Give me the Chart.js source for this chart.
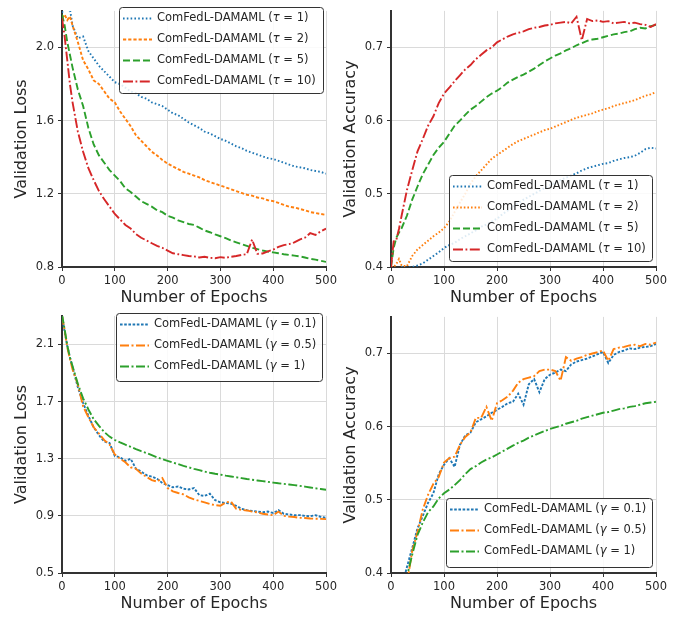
<!DOCTYPE html>
<html>
<head>
<meta charset="utf-8">
<script src="https://cdn.jsdelivr.net/npm/chart.js@4.4.0/dist/chart.umd.min.js"></script>
<style>
  body { margin: 0; background: #fff; }
  #wrap { position: relative; width: 689px; height: 618px; overflow: hidden; background: #fff; }
  #wrap canvas { position: absolute; }
</style>
</head>
<body>
<div id="wrap"></div>
<script>
// epochs sampled from the curves
const epochs = [0,5,10,15,20, 30,40,50,60,70,80,90,100, 110,120,130,140,150,160,170,180,190,200,
  210,220,230,240,250,260,270,280,290,300, 310,320,330,340,350,360,370,380,390,400,
  410,420,430,440,450,460,470,480,490,500];

const xTicks = [0, 100, 200, 300, 400, 500];
const lossTicksTop = [0.8, 1.2, 1.6, 2.0];
const lossTicksBottom = [0.5, 0.9, 1.3, 1.7, 2.1];
const accTicks = [0.4, 0.5, 0.6, 0.7];

const tauLabels = ['ComFedL-DAMAML (τ = 1)', 'ComFedL-DAMAML (τ = 2)', 'ComFedL-DAMAML (τ = 5)', 'ComFedL-DAMAML (τ = 10)'];
const gammaLabels = ['ComFedL-DAMAML (γ = 0.1)', 'ComFedL-DAMAML (γ = 0.5)', 'ComFedL-DAMAML (γ = 1)'];

// top left: validation loss vs tau
const lossTau1 = [2.19,2.22,2.20,2.21,2.12, 2.05,2.06,1.98,1.94,1.90,1.87,1.84,1.81,
  1.80,1.78,1.76,1.75,1.73,1.72,1.70,1.69,1.68,1.66, 1.64,1.63,1.61,1.59,1.575,1.56,1.54,1.53,1.515,1.50,
  1.49,1.475,1.46,1.45,1.435,1.425,1.415,1.405,1.395,1.39, 1.38,1.37,1.36,1.35,1.345,1.34,1.33,1.325,1.32,1.31];
const lossTau2 = [2.16,2.18,2.15,2.17,2.12, 2.03,1.93,1.88,1.82,1.80,1.76,1.72,1.70,
  1.65,1.61,1.57,1.52,1.49,1.46,1.43,1.41,1.385,1.365, 1.35,1.335,1.32,1.31,1.30,1.29,1.275,1.265,1.255,1.245,
  1.235,1.225,1.215,1.205,1.195,1.19,1.18,1.175,1.165,1.16, 1.15,1.14,1.13,1.125,1.118,1.11,1.10,1.095,1.09,1.085];
const lossTau5 = [2.18,2.12,2.03,1.96,1.89, 1.77,1.68,1.56,1.47,1.41,1.37,1.33,1.30,
  1.27,1.23,1.21,1.185,1.16,1.145,1.13,1.11,1.10,1.08, 1.07,1.055,1.045,1.035,1.03,1.015,1.00,0.99,0.978,0.968,
  0.958,0.945,0.935,0.925,0.915,0.905,0.898,0.89,0.884,0.88, 0.875,0.87,0.866,0.862,0.858,0.852,0.845,0.84,0.834,0.828];
const lossTau10 = [2.16,2.06,1.93,1.80,1.70, 1.54,1.43,1.34,1.275,1.215,1.17,1.13,1.09,
  1.06,1.03,1.01,0.98,0.96,0.945,0.93,0.915,0.905,0.89, 0.875,0.87,0.865,0.86,0.858,0.852,0.856,0.85,0.848,0.854,
  0.85,0.856,0.86,0.866,0.87,0.95,0.872,0.874,0.885,0.895, 0.91,0.92,0.925,0.935,0.95,0.96,0.985,0.975,0.995,1.01];

// top right: validation accuracy vs tau
const accTau1 = [0.40,0.398,0.397,0.398,0.40, 0.399,0.40,0.402,0.405,0.41,0.415,0.42,0.426,
  0.43,0.433,0.438,0.442,0.446,0.45,0.455,0.458,0.462,0.466, 0.472,0.477,0.482,0.487,0.492,0.496,0.50,0.504,0.508,0.512,
  0.515,0.519,0.522,0.525,0.528,0.532,0.535,0.537,0.539,0.541, 0.542,0.545,0.547,0.549,0.55,0.552,0.556,0.561,0.563,0.562];
const accTau2 = [0.40,0.40,0.404,0.411,0.402, 0.401,0.415,0.424,0.43,0.436,0.442,0.447,0.453,
  0.462,0.475,0.488,0.50,0.514,0.524,0.532,0.54,0.548,0.553, 0.558,0.563,0.568,0.572,0.575,0.578,0.581,0.584,0.587,0.589,
  0.592,0.595,0.598,0.601,0.604,0.606,0.608,0.61,0.613,0.615, 0.617,0.62,0.622,0.624,0.626,0.628,0.631,0.634,0.636,0.639];
const accTau5 = [0.40,0.426,0.44,0.447,0.453, 0.47,0.492,0.51,0.527,0.54,0.553,0.563,0.571,
  0.582,0.593,0.60,0.608,0.615,0.62,0.626,0.632,0.637,0.641, 0.646,0.652,0.656,0.66,0.663,0.667,0.671,0.676,0.681,0.685,
  0.689,0.692,0.696,0.699,0.703,0.706,0.709,0.711,0.712,0.714, 0.716,0.718,0.719,0.721,0.722,0.725,0.727,0.726,0.729,0.731];
const accTau10 = [0.40,0.435,0.437,0.452,0.47, 0.505,0.532,0.558,0.575,0.593,0.606,0.624,0.637,
  0.645,0.654,0.662,0.67,0.676,0.684,0.69,0.696,0.70,0.707, 0.711,0.715,0.718,0.72,0.722,0.725,0.727,0.728,0.73,0.731,
  0.733,0.734,0.735,0.733,0.742,0.71,0.739,0.736,0.737,0.735, 0.736,0.733,0.734,0.735,0.733,0.734,0.732,0.731,0.728,0.732];

// bottom left: validation loss vs gamma
const lossGam01 = [2.30,2.19,2.09,2.01,1.94, 1.80,1.69,1.60,1.52,1.465,1.42,1.41,1.32,
  1.31,1.285,1.30,1.23,1.21,1.185,1.175,1.16,1.13,1.115, 1.10,1.105,1.09,1.085,1.095,1.045,1.04,1.055,1.01,0.995,
  0.99,0.985,0.97,0.95,0.94,0.935,0.93,0.925,0.93,0.92, 0.94,0.915,0.91,0.905,0.905,0.90,0.897,0.905,0.893,0.886];
const lossGam05 = [2.30,2.20,2.08,2.00,1.925, 1.82,1.667,1.59,1.52,1.476,1.43,1.40,1.33,
  1.30,1.275,1.24,1.23,1.196,1.173,1.15,1.14,1.165,1.095, 1.072,1.06,1.05,1.03,1.016,1.005,0.995,0.983,0.975,0.971,
  0.994,1.0,0.949,0.942,0.938,0.93,0.925,0.915,0.91,0.904, 0.93,0.9,0.895,0.892,0.886,0.885,0.882,0.88,0.879,0.877];
const lossGam1 = [2.31,2.206,2.093,2.01,1.947, 1.824,1.723,1.645,1.577,1.53,1.487,1.455,1.431,
  1.414,1.398,1.383,1.367,1.353,1.34,1.325,1.31,1.297,1.285, 1.273,1.262,1.25,1.24,1.229,1.22,1.21,1.202,1.195,1.189,
  1.182,1.176,1.17,1.164,1.158,1.153,1.148,1.143,1.138,1.133, 1.128,1.124,1.12,1.115,1.11,1.105,1.099,1.093,1.088,1.083];

// bottom right: validation accuracy vs gamma
const accGam01 = [0.30,0.32,0.34,0.36,0.38, 0.408,0.434,0.461,0.478,0.496,0.509,0.535,0.548,
  0.557,0.545,0.575,0.588,0.592,0.606,0.61,0.614,0.619,0.623, 0.627,0.632,0.634,0.645,0.63,0.658,0.665,0.647,0.665,0.671,
  0.674,0.678,0.676,0.685,0.689,0.691,0.693,0.696,0.699,0.702, 0.687,0.698,0.702,0.704,0.707,0.706,0.708,0.709,0.71,0.713];
const accGam05 = [0.30,0.32,0.34,0.36,0.37, 0.385,0.43,0.456,0.487,0.507,0.522,0.531,0.551,
  0.557,0.559,0.575,0.586,0.592,0.612,0.612,0.627,0.608,0.632, 0.636,0.641,0.649,0.66,0.665,0.667,0.669,0.676,0.678,0.678,
  0.676,0.663,0.695,0.69,0.693,0.695,0.698,0.70,0.702,0.704, 0.69,0.706,0.708,0.709,0.711,0.712,0.71,0.713,0.712,0.715];
const accGam1 = [0.28,0.30,0.32,0.34,0.36, 0.395,0.425,0.452,0.469,0.483,0.491,0.502,0.509,
  0.514,0.52,0.527,0.535,0.542,0.546,0.551,0.555,0.558,0.562, 0.566,0.57,0.574,0.578,0.581,0.585,0.588,0.591,0.594,0.597,
  0.599,0.601,0.604,0.606,0.608,0.611,0.613,0.615,0.617,0.619, 0.62,0.622,0.624,0.625,0.627,0.628,0.63,0.632,0.633,0.634];

const BLUE = '#1f77b4', ORANGE = '#ff7f0e', GREEN = '#2ca02c', RED = '#d62728';
const FONT = 'DejaVu Sans';
const LW = 1.9;

Chart.defaults.font.family = FONT;
Chart.defaults.font.size = 11.5;
Chart.defaults.color = '#262626';

// draws a label, greek letters in italic like mathtext
function drawLabel(ctx, text, x, y) {
  const parts = text.split(/([τγ])/);
  ctx.textBaseline = 'middle';
  ctx.fillStyle = '#262626';
  parts.forEach(p => {
    if (!p) return;
    ctx.font = (/[τγ]/.test(p) ? 'italic ' : '') + '11.5px "' + FONT + '"';
    ctx.fillText(p, x, y);
    x += ctx.measureText(p).width;
  });
}

const insideLegend = {
  id: 'insideLegend',
  afterDatasetsDraw(chart, args, opts) {
    const ctx = chart.ctx;
    const b = opts.box;
    ctx.save();
    ctx.beginPath();
    ctx.roundRect(b.x + 0.5, b.y + 0.5, b.w, b.h, 3);
    ctx.fillStyle = 'rgba(255,255,255,0.85)';
    ctx.fill();
    ctx.strokeStyle = '#333';
    ctx.lineWidth = 1;
    ctx.stroke();
    chart.data.datasets.forEach((ds, i) => {
      const y = b.y + 11.5 + i * 21;
      ctx.beginPath();
      ctx.setLineDash(ds.borderDash || []);
      ctx.strokeStyle = ds.borderColor;
      ctx.lineWidth = ds.borderWidth;
      ctx.moveTo(b.x + 4, y);
      ctx.lineTo(b.x + 33, y);
      ctx.stroke();
      ctx.setLineDash([]);
      drawLabel(ctx, ds.label, b.x + 38, y);
    });
    ctx.restore();
  }
};

function makePanel(p) {
  const canvas = document.createElement('canvas');
  const left = p.areaLeft - 62;
  const w = p.areaRight - left + 12;
  const h = p.areaBottom - p.areaTop + 43;
  canvas.width = w; canvas.height = h;
  canvas.style.left = left + 'px';
  canvas.style.top = p.areaTop + 'px';
  canvas.style.width = w + 'px';
  canvas.style.height = h + 'px';
  document.getElementById('wrap').appendChild(canvas);

  const n = p.series.length;
  const datasets = p.series.map((s, i) => ({
    label: s.label,
    data: epochs.map((e, k) => ({ x: e, y: s.values[k] })),
    borderColor: s.color,
    borderDash: s.dash,
    borderWidth: LW,
    pointRadius: 0,
    fill: false,
    tension: 0,
    order: n - i
  }));

  new Chart(canvas, {
    type: 'line',
    data: { datasets },
    plugins: [insideLegend],
    options: {
      responsive: false,
      animation: false,
      layout: { padding: { left: 0, right: 12, top: 0, bottom: 0 } },
      plugins: {
        legend: { display: false },
        tooltip: { enabled: false },
        insideLegend: { box: p.legend }
      },
      scales: {
        x: {
          type: 'linear', min: 0, max: 500,
          afterBuildTicks: s => { s.ticks = xTicks.map(v => ({ value: v })); },
          afterFit: s => { s.height = 43; },
          ticks: { padding: 3, maxRotation: 0, callback: v => String(v) },
          grid: { color: '#dadada', lineWidth: 1, tickLength: 4, tickColor: '#333' },
          border: { color: '#333', width: 2 },
          title: { display: true, text: 'Number of Epochs', font: { size: 16 }, padding: { top: 0, bottom: 2.4 }, color: '#262626' }
        },
        y: {
          type: 'linear', min: p.yMin, max: p.yMax,
          afterBuildTicks: s => { s.ticks = p.yTicks.map(v => ({ value: v })); },
          afterFit: s => { s.width = 62; },
          ticks: { padding: 4, callback: v => v.toFixed(1) },
          grid: { color: '#dadada', lineWidth: 1, tickLength: 4, tickColor: '#333' },
          border: { color: '#333', width: 2 },
          title: { display: true, text: p.yTitle, font: { size: 16 }, padding: { top: 12.4, bottom: 0 }, color: '#262626' }
        }
      }
    }
  });
}

makePanel({
  areaLeft: 62, areaRight: 328, areaTop: 0, areaBottom: 267,
  yMin: 0.8, yMax: 2.2, yTicks: lossTicksTop, yTitle: 'Validation Loss',
  legend: { x: 119, y: 7, w: 204, h: 86 },
  series: [
    { label: tauLabels[0], values: lossTau1, color: BLUE, dash: [1.6, 2.2] },
    { label: tauLabels[1], values: lossTau2, color: ORANGE, dash: [3.2, 2] },
    { label: tauLabels[2], values: lossTau5, color: GREEN, dash: [7, 3] },
    { label: tauLabels[3], values: lossTau10, color: RED, dash: [10, 2.5, 1.8, 2.5] }
  ]
});

makePanel({
  areaLeft: 391, areaRight: 658, areaTop: 0, areaBottom: 267,
  yMin: 0.4, yMax: 0.75, yTicks: accTicks, yTitle: 'Validation Accuracy',
  legend: { x: 120, y: 175, w: 203, h: 86 },
  series: [
    { label: tauLabels[0], values: accTau1, color: BLUE, dash: [1.6, 2.2] },
    { label: tauLabels[1], values: accTau2, color: ORANGE, dash: [1.6, 2] },
    { label: tauLabels[2], values: accTau5, color: GREEN, dash: [7, 3] },
    { label: tauLabels[3], values: accTau10, color: RED, dash: [10, 2.5, 1.8, 2.5] }
  ]
});

makePanel({
  areaLeft: 62, areaRight: 328, areaTop: 305, areaBottom: 573,
  yMin: 0.5, yMax: 2.3, yTicks: lossTicksBottom, yTitle: 'Validation Loss',
  legend: { x: 116, y: 8, w: 206, h: 68 },
  series: [
    { label: gammaLabels[0], values: lossGam01, color: BLUE, dash: [2.6, 1.6] },
    { label: gammaLabels[1], values: lossGam05, color: ORANGE, dash: [9, 2.5, 2, 2.5] },
    { label: gammaLabels[2], values: lossGam1, color: GREEN, dash: [9, 2.5, 2, 2.5] }
  ]
});

makePanel({
  areaLeft: 391, areaRight: 658, areaTop: 306, areaBottom: 573,
  yMin: 0.4, yMax: 0.75, yTicks: accTicks, yTitle: 'Validation Accuracy',
  legend: { x: 117, y: 192, w: 206, h: 69 },
  series: [
    { label: gammaLabels[0], values: accGam01, color: BLUE, dash: [2.6, 1.6] },
    { label: gammaLabels[1], values: accGam05, color: ORANGE, dash: [9, 2.5, 2, 2.5] },
    { label: gammaLabels[2], values: accGam1, color: GREEN, dash: [9, 2.5, 2, 2.5] }
  ]
});
</script>
</body>
</html>
